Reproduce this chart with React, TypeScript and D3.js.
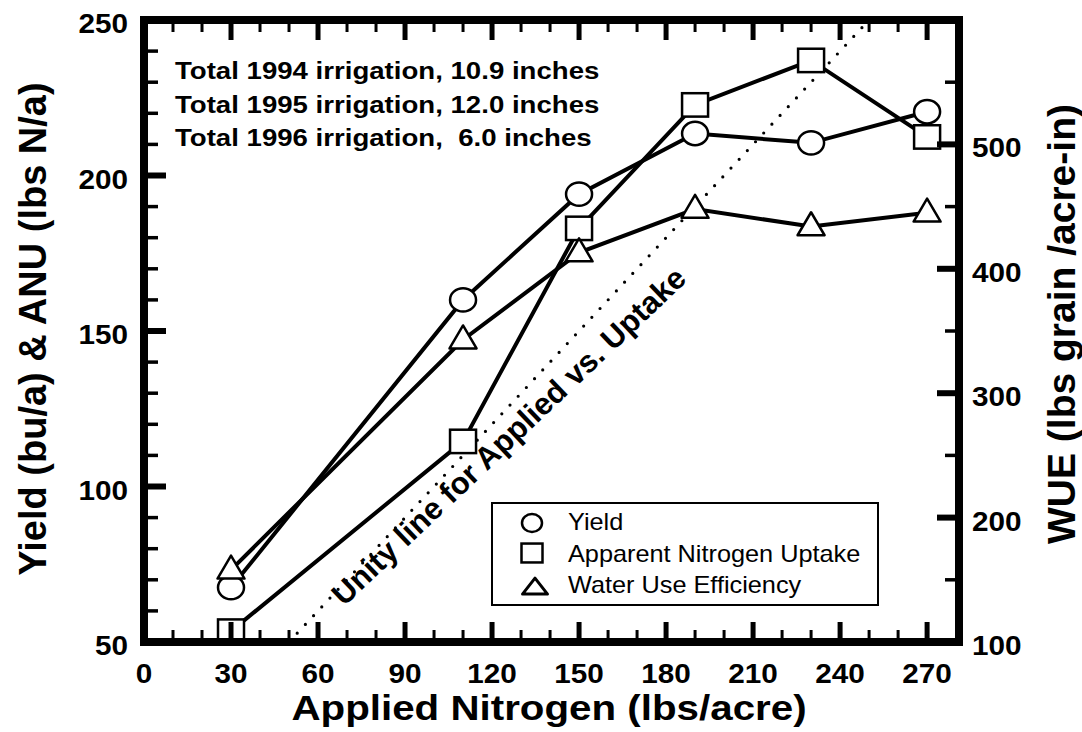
import React from 'react';
import * as d3 from 'd3';

// applied nitrogen rates (lbs/acre)
const nRates = [30, 110, 150, 190, 230, 270];
// yield (bu/a) and apparent nitrogen uptake (lbs N/a) - left axis
const yieldVals = [67.5, 160, 194, 213.5, 210.5, 220.5];
const anuVals = [53.5, 114.5, 183, 222.7, 237, 212.4];
// water use efficiency (lbs grain/acre-in) - right axis
const wueVals = [158, 343, 413, 448, 434, 445];

const notes = [
  'Total 1994 irrigation, 10.9 inches',
  'Total 1995 irrigation, 12.0 inches',
  'Total 1996 irrigation,  6.0 inches',
];
const legendLabels = ['Yield', 'Apparent Nitrogen Uptake', 'Water Use Efficiency'];
const unityLabel = 'Unity line for Applied vs. Uptake';

const W = 1082;
const H = 732;
const FONT = 'Liberation Sans, Arial, Helvetica, sans-serif';

const x = d3.scaleLinear().domain([0, 281]).range([144, 959]);
const yL = d3.scaleLinear().domain([50, 250]).range([642, 20]);
const yR = d3.scaleLinear().domain([100, 600]).range([642, 20]);

const xMinor = d3.range(0, 271, 10);
const xMajor = d3.range(0, 271, 30);
const yLMinor = d3.range(50, 251, 10);
const yLMajor = d3.range(50, 251, 50);
const yRMinor = d3.range(100, 601, 50);
const yRMajor = d3.range(100, 601, 100);
const yRLabels = d3.range(100, 501, 100);

// horizontally stretched text, the scan is a bit wide
const SText = ({ x, y, size, weight = 'bold', anchor = 'start', sx = 1.1, children }) => (
  <g transform={`translate(${x},${y}) scale(${sx},1)`}>
    <text
      fontFamily={FONT}
      fontSize={size}
      fontWeight={weight}
      textAnchor={anchor}
      style={{ whiteSpace: 'pre' }}
    >
      {children}
    </text>
  </g>
);

const Circle = ({ cx, cy, r = 13 }) => (
  <ellipse cx={cx} cy={cy} rx={r} ry={r * 0.9} fill="#fff" stroke="#000" strokeWidth={2.5} />
);
const Square = ({ cx, cy, s = 26 }) => (
  <rect x={cx - s / 2} y={cy - s * 0.45} width={s} height={s * 0.9} fill="#fff" stroke="#000" strokeWidth={2.5} />
);
const Triangle = ({ cx, cy, w = 27, h = 23, sw = 2.5 }) => (
  <path
    d={`M${cx},${cy - h * 0.62}L${cx + w / 2},${cy + h * 0.38}L${cx - w / 2},${cy + h * 0.38}Z`}
    fill="#fff"
    stroke="#000"
    strokeWidth={sw}
    strokeLinejoin="round"
  />
);

export default function App() {
  const lineL = d3.line<number>().x((d, i) => x(nRates[i])).y((d) => yL(d));
  const lineR = d3.line<number>().x((d, i) => x(nRates[i])).y((d) => yR(d));

  // unity line y = x
  const u0 = 50;
  const u1 = 250;

  const left = x.range()[0];
  const right = x.range()[1];
  const top = yL.range()[1];
  const bottom = yL.range()[0];

  return (
    <svg width={W} height={H} style={{ position: 'absolute', left: 0, top: 0, background: '#fff' }}>
      {/* unity dotted line */}
      <line
        x1={x(u0)}
        y1={yL(u0)}
        x2={x(u1)}
        y2={yL(u1)}
        stroke="#000"
        strokeWidth={3.2}
        strokeLinecap="round"
        strokeDasharray="0 12"
      />
      <g transform={`translate(344,607) rotate(-43.5)`}>
        <text fontFamily={FONT} fontSize={31} fontWeight="bold">
          {unityLabel}
        </text>
      </g>

      {/* series lines */}
      <path d={lineL(yieldVals)} fill="none" stroke="#000" strokeWidth={4} />
      <path d={lineL(anuVals)} fill="none" stroke="#000" strokeWidth={4} />
      <path d={lineR(wueVals)} fill="none" stroke="#000" strokeWidth={4} />

      {yieldVals.map((v, i) => (
        <Circle key={'c' + i} cx={x(nRates[i])} cy={yL(v)} />
      ))}
      {anuVals.map((v, i) => (
        <Square key={'s' + i} cx={x(nRates[i])} cy={yL(v)} />
      ))}
      {wueVals.map((v, i) => (
        <Triangle key={'t' + i} cx={x(nRates[i])} cy={yR(v)} />
      ))}

      {/* frame ticks */}
      {xMinor.map((v) => {
        const len = xMajor.includes(v) ? 20 : 12;
        const sw = xMajor.includes(v) ? 5 : 3;
        return (
          <g key={'xt' + v}>
            <line x1={x(v)} x2={x(v)} y1={bottom} y2={bottom - len} stroke="#000" strokeWidth={sw} />
            <line x1={x(v)} x2={x(v)} y1={top} y2={top + len} stroke="#000" strokeWidth={sw} />
          </g>
        );
      })}
      {yLMinor.map((v) => {
        const major = yLMajor.includes(v);
        return (
          <line
            key={'yl' + v}
            x1={left}
            x2={left + (major ? 22 : 14)}
            y1={yL(v)}
            y2={yL(v)}
            stroke="#000"
            strokeWidth={major ? 6 : 3.5}
          />
        );
      })}
      {yRMinor.map((v) => {
        const major = yRMajor.includes(v);
        return (
          <line
            key={'yr' + v}
            x1={right}
            x2={right - (major ? 22 : 14)}
            y1={yR(v)}
            y2={yR(v)}
            stroke="#000"
            strokeWidth={major ? 6 : 3.5}
          />
        );
      })}
      <rect
        x={left}
        y={top}
        width={right - left}
        height={bottom - top}
        fill="none"
        stroke="#000"
        strokeWidth={8}
      />

      {/* tick labels */}
      {xMajor.map((v) => (
        <SText key={'xl' + v} x={x(v)} y={683} size={27} anchor="middle">
          {String(v)}
        </SText>
      ))}
      {yLMajor.map((v) => (
        <SText key={'yll' + v} x={128} y={yL(v) + 13} size={27} anchor="end">
          {String(v)}
        </SText>
      ))}
      {yRLabels.map((v) => (
        <SText key={'yrl' + v} x={972} y={yR(v) + 13} size={27}>
          {String(v)}
        </SText>
      ))}

      {/* axis titles */}
      <SText x={549} y={720} size={36} anchor="middle" sx={1.12}>
        Applied Nitrogen (lbs/acre)
      </SText>
      <text
        transform={`translate(46,329) rotate(-90)`}
        fontFamily={FONT}
        fontSize={38}
        fontWeight="bold"
        textAnchor="middle"
      >
        Yield (bu/a) &amp; ANU (lbs N/a)
      </text>
      <text
        transform={`translate(1075,324) rotate(-90)`}
        fontFamily={FONT}
        fontSize={39}
        fontWeight="bold"
        textAnchor="middle"
      >
        WUE (lbs grain /acre-in)
      </text>

      {/* irrigation notes */}
      {notes.map((t, i) => (
        <SText key={'n' + i} x={175} y={79 + i * 33.5} size={24} sx={1.15}>
          {t}
        </SText>
      ))}

      {/* legend */}
      <rect x={492} y={503} width={386} height={102} fill="#fff" stroke="#000" strokeWidth={2} />
      <Circle cx={532} cy={523} r={10} />
      <Square cx={532} cy={553} s={21} />
      <Triangle cx={535} cy={588} w={25} h={16} sw={3} />
      {legendLabels.map((t, i) => (
        <SText key={'lg' + i} x={568} y={530 + i * 31.5} size={23} weight="normal" sx={1.1}>
          {t}
        </SText>
      ))}
    </svg>
  );
}
